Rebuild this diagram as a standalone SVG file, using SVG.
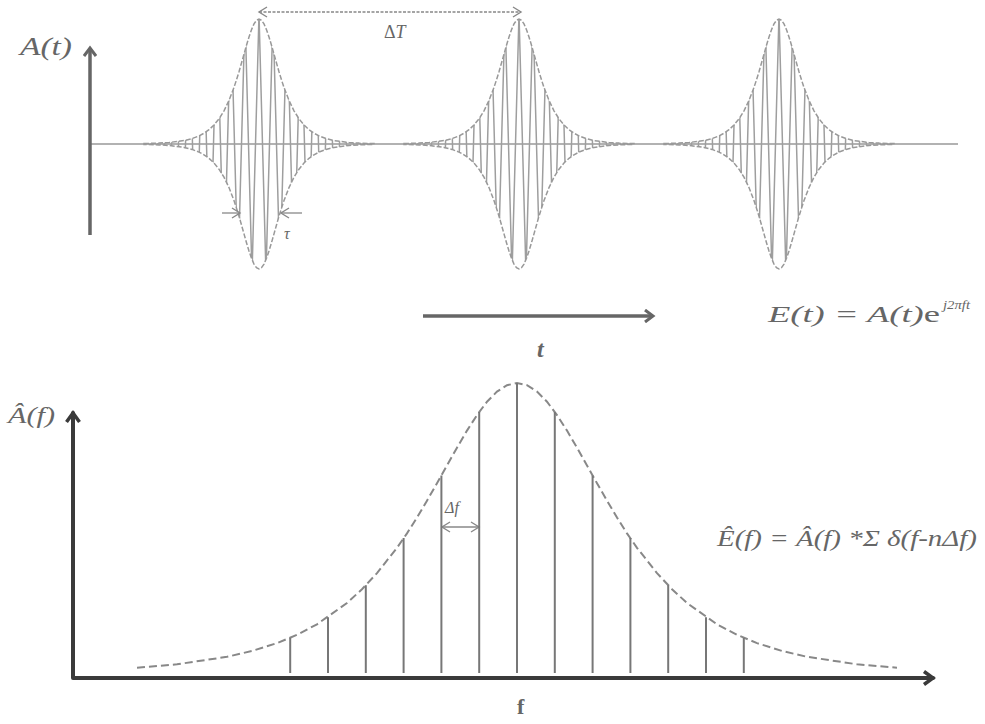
<svg xmlns="http://www.w3.org/2000/svg" xmlns:xlink="http://www.w3.org/1999/xlink" width="985" height="724" viewBox="0 0 985 724">
<style>
.txt{font-family:"Liberation Serif","DejaVu Serif",serif;fill:#666;}
.it{font-style:italic;}
.env{fill:none;stroke:#999;stroke-width:1.5;stroke-dasharray:5,2;}
.base{stroke:#999;stroke-width:1.5;fill:none;}
.axT{stroke:#666;stroke-width:3.5;fill:none;}
.axB{stroke:#3a3a3a;stroke-width:4;fill:none;stroke-linejoin:round;stroke-linecap:round;}
.spec{stroke:#777;stroke-width:2;}
.curve{fill:none;stroke:#888;stroke-width:2;stroke-dasharray:8,4;}
.dim{stroke:#888;stroke-width:1.3;fill:none;}
</style>
<defs>
<pattern id="carrier" patternUnits="userSpaceOnUse" x="0" y="-130" width="14" height="260">
<path d="M0,0 L7,260 L14,0" fill="none" stroke="#9e9e9e" stroke-width="1.5"/>
</pattern>
<path id="env" d="M-115,-0.4 L-100,-0.9 L-90,-1.5 L-75,-3.4 L-67,-5.4 L-60,-8.1 L-55,-10.8 L-50,-14.3 L-45,-19 L-40,-25.2 L-35,-33.2 L-30,-43.6 L-25,-56.6 L-22.5,-64.2 L-20,-72.2 L-17.5,-81 L-15,-89.9 L-12.5,-98.7 L-10,-107 L-7.5,-114.3 L-5,-120.1 L-2.5,-123.7 L0,-125 L2.5,-123.7 L5,-120.1 L7.5,-114.3 L10,-107 L12.5,-98.7 L15,-89.9 L17.5,-81 L20,-72.2 L22.5,-64.2 L25,-56.6 L30,-43.6 L35,-33.2 L40,-25.2 L45,-19 L50,-14.3 L55,-10.8 L60,-8.1 L67,-5.4 L75,-3.4 L90,-1.5 L100,-0.9 L115,-0.4 L115,0.4 L100,0.9 L90,1.5 L75,3.4 L67,5.4 L60,8.1 L55,10.8 L50,14.3 L45,19 L40,25.2 L35,33.2 L30,43.6 L25,56.6 L22.5,64.2 L20,72.2 L17.5,81 L15,89.9 L12.5,98.7 L10,107 L7.5,114.3 L5,120.1 L2.5,123.7 L0,125 L-2.5,123.7 L-5,120.1 L-7.5,114.3 L-10,107 L-12.5,98.7 L-15,89.9 L-17.5,81 L-20,72.2 L-22.5,64.2 L-25,56.6 L-30,43.6 L-35,33.2 L-40,25.2 L-45,19 L-50,14.3 L-55,10.8 L-60,8.1 L-67,5.4 L-75,3.4 L-90,1.5 L-100,0.9 L-115,0.4 Z"/>
<marker id="arT" markerWidth="14" markerHeight="14" refX="10" refY="7" orient="auto" markerUnits="userSpaceOnUse">
<path d="M2,1 L10,7 L2,13" fill="none" stroke="#666" stroke-width="3" stroke-linejoin="miter"/>
</marker>
<marker id="arB" markerWidth="16" markerHeight="16" refX="12" refY="8" orient="auto" markerUnits="userSpaceOnUse">
<path d="M3,1.5 L12,8 L3,14.5" fill="none" stroke="#3a3a3a" stroke-width="3.5" stroke-linejoin="miter"/>
</marker>
<marker id="arD" markerWidth="12" markerHeight="12" refX="10" refY="6" orient="auto-start-reverse" markerUnits="userSpaceOnUse">
<path d="M2,1 L10,6 L2,11" fill="none" stroke="#888" stroke-width="1.4"/>
</marker>
</defs>

<g id="time-domain">
<line class="base" x1="90" y1="144" x2="958" y2="144"/>
<g id="pulse1" transform="translate(259,144)">
<use xlink:href="#env" href="#env" fill="url(#carrier)" stroke="none"/>
<use xlink:href="#env" href="#env" class="env"/>
</g>
<g id="pulse2" transform="translate(519,144)">
<use xlink:href="#env" href="#env" fill="url(#carrier)" stroke="none"/>
<use xlink:href="#env" href="#env" class="env"/>
</g>
<g id="pulse3" transform="translate(779,144)">
<use xlink:href="#env" href="#env" fill="url(#carrier)" stroke="none"/>
<use xlink:href="#env" href="#env" class="env"/>
</g>
</g>

<g id="connectors">
<line class="axT" x1="90" y1="235" x2="90" y2="48" marker-end="url(#arT)"/>
<line class="axT" x1="423" y1="316" x2="653" y2="316" marker-end="url(#arT)"/>
<line class="dim" x1="259" y1="12" x2="521" y2="12" stroke-dasharray="3,1.5" marker-start="url(#arD)" marker-end="url(#arD)"/>
<line class="dim" x1="222" y1="213" x2="240" y2="213" marker-end="url(#arD)"/>
<line class="dim" x1="302" y1="213" x2="281" y2="213" marker-end="url(#arD)"/>
<path class="axB" d="M73,415 L73,678 L930,678"/>
<line class="axB" x1="73" y1="500" x2="73" y2="413" marker-end="url(#arB)"/>
<line class="axB" x1="850" y1="678" x2="933" y2="678" marker-end="url(#arB)"/>
<line class="dim" x1="442" y1="527" x2="479" y2="527" marker-start="url(#arD)" marker-end="url(#arD)"/>
</g>

<g id="spectrum">
<path class="curve" d="M137,667.7 L177,664.3 L227,656.8 L252,651 L277,643.1 L297,634.8 L317,624.3 L347,603 L362,589.2 L377,573.1 L397,547.8 L407,533.4 L417,517.5 L427,500.7 L437,483.2 L447,465.4 L457,447.7 L467,430.6 L477,415.1 L487,401.7 L497,391.6 L507,385.2 L517,383 L527,385.2 L537,391.6 L547,401.7 L557,415.1 L567,430.6 L577,447.7 L587,465.4 L597,483.2 L607,500.7 L617,517.5 L627,533.4 L637,547.8 L657,573.1 L672,589.2 L687,603 L717,624.3 L737,634.8 L757,643.1 L782,651 L807,656.8 L857,664.3 L897,667.7"/>
<line class="spec" x1="290.2" y1="673" x2="290.2" y2="637.9"/>
<line class="spec" x1="328" y1="673" x2="328" y2="617.3"/>
<line class="spec" x1="365.8" y1="673" x2="365.8" y2="585.2"/>
<line class="spec" x1="403.6" y1="673" x2="403.6" y2="538"/>
<line class="spec" x1="441.4" y1="673" x2="441.4" y2="475.5"/>
<line class="spec" x1="479.2" y1="673" x2="479.2" y2="411.9"/>
<line class="spec" x1="517" y1="673" x2="517" y2="383"/>
<line class="spec" x1="554.8" y1="673" x2="554.8" y2="411.9"/>
<line class="spec" x1="592.6" y1="673" x2="592.6" y2="475.5"/>
<line class="spec" x1="630.4" y1="673" x2="630.4" y2="538"/>
<line class="spec" x1="668.2" y1="673" x2="668.2" y2="585.2"/>
<line class="spec" x1="706" y1="673" x2="706" y2="617.3"/>
<line class="spec" x1="743.8" y1="673" x2="743.8" y2="637.9"/>
</g>

<g id="labels">
<text class="txt it" x="20" y="55" font-size="25" textLength="52" lengthAdjust="spacingAndGlyphs">A(t)</text>
<text class="txt" x="384" y="38" font-size="18">Δ<tspan font-style="italic">T</tspan></text>
<text class="txt it" x="284" y="239" font-size="16">τ</text>
<text class="txt it" x="768" y="322" font-size="24" textLength="172" lengthAdjust="spacingAndGlyphs">E(t) = A(t)<tspan font-style="normal">e</tspan></text>
<text class="txt it" x="943" y="309" font-size="13" textLength="27" lengthAdjust="spacingAndGlyphs">j2πft</text>
<text class="txt it" x="537" y="357" font-size="24" font-weight="bold">t</text>
<text class="txt it" x="8" y="423" font-size="23" textLength="47" lengthAdjust="spacingAndGlyphs">Â(f)</text>
<text class="txt it" x="445" y="513" font-size="16">Δf</text>
<text class="txt it" x="717" y="546" font-size="24" textLength="260" lengthAdjust="spacingAndGlyphs">Ê(f) = Â(f) *Σ δ(f-nΔf)</text>
<text class="txt" x="517" y="714" font-size="22" font-weight="bold">f</text>
</g>
</svg>
